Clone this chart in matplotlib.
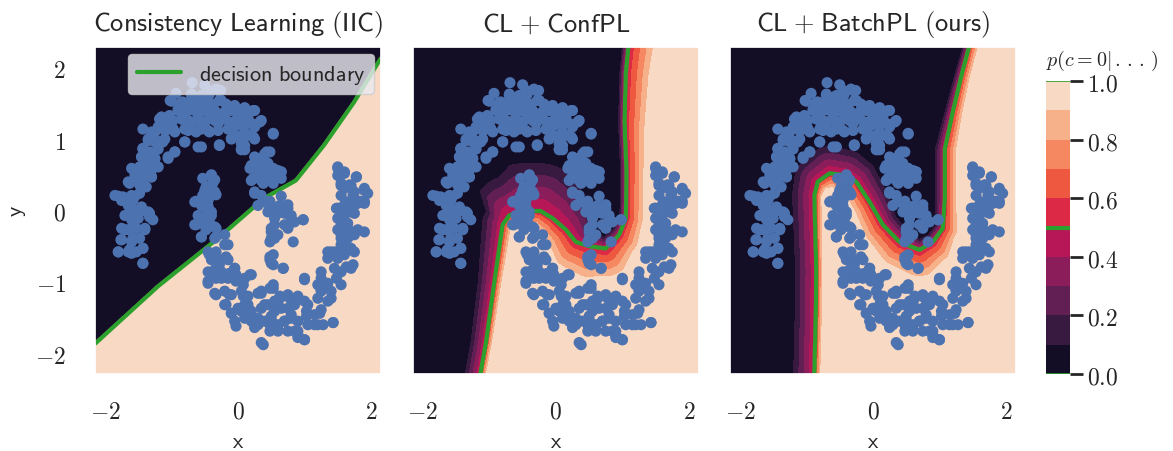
import numpy as np
import matplotlib
matplotlib.use("Agg")
import matplotlib.pyplot as plt
from matplotlib.path import Path
from matplotlib.ticker import FuncFormatter
import seaborn as sns

sns.set_theme(style="darkgrid")
plt.rcParams['mathtext.fontset'] = 'cm'
plt.rcParams['font.family'] = ['DejaVu Sans']

# ---------------------------------------------------------------- data points
# upper moon (class 0)
upper_x = [-0.69, -0.50, -0.33, -0.26, -0.93, -0.70, -0.65, -0.55, -0.43, -1.02,
           -0.85, -0.75, -0.60, -0.50, -0.38, -0.28, -0.18, -0.05, 0.10, 0.25,
           -0.90, -0.80, -0.65, -0.53, -0.43, -0.30, -0.20, -0.10, 0.05, 0.15,
           0.35, -1.18, -1.08, -0.98, -0.85, -0.75, -0.60, -0.50, -0.35, -0.23,
           -0.13, -0.03, 0.10, 0.25, 0.20, -1.43, -1.30, -1.20, -1.05, -0.95,
           -0.80, -0.70, -0.55, -0.43, -0.30, -0.15, -0.05, 0.08, 0.25, 0.53,
           -1.35, -1.25, -1.10, -0.80, -0.60, -0.28, -0.10, 0.05, 0.10, -1.43,
           -1.33, -1.20, -1.45, -1.35, -1.25, -1.05, -0.95, 0.40, 0.48, 0.25,
           0.35, 0.45, 0.53, 0.20, 0.30, 0.40, 0.48, 0.60, 0.65, -1.60,
           -1.48, -1.38, -1.28, -1.55, -1.65, -1.50, -1.43, -1.30, 0.20, 0.35,
           0.48, 0.53, 0.65, 0.25, 0.35, -1.85, -1.73, -1.60, -1.48, -1.65,
           -1.55, -1.45, -1.35, -1.28, -1.70, -1.60, -1.50, -1.75, -1.65, -1.53,
           -1.40, -1.75, -1.60, -1.48, -1.80, -1.65, -1.43, -1.43, -1.60, 0.38,
           0.50, 0.63, 0.45, 0.60, 0.75, 0.80, 0.85, 0.55, 0.70, 0.98,
           0.50, 0.55, 0.48, 0.60, 0.75,
           -0.45, -0.28, -0.70, -0.58, -1.00, -0.83, -0.65, -0.45, -0.25, -0.10,
           -0.90, -0.75, -0.50, -0.35, -0.05, 0.08, -1.15, -1.03, -0.80, -0.63,
           -0.50, -0.20, -0.03, -0.30, -1.25, -1.10, -0.98, -0.75, -0.63, -0.45,
           -0.10, 0.05, -1.35, -1.23, -1.13, -0.80, -0.55, -0.28, 0.05, -1.43,
           -1.33, -1.45, -1.25, -1.05, -0.95, -1.40, -1.20, -1.55, -1.43, -1.30,
           -1.63, -1.48, -1.38, -1.80, -1.68, -1.55, -1.60, -1.45, -1.33,
           0.10, 0.23, 0.05, 0.20, 0.33, 0.10, 0.23, 0.53, 0.05, 0.10,
           0.28, 0.43, 0.18, 0.35, 0.45, 0.50, 0.65, 0.23, 0.38, 0.53,
           0.25, 0.48, 0.65, 0.75, 0.55,
           -1.75, -1.58, -1.60, -1.43, -1.33, -1.70, -1.58, -1.40, -1.76, -1.58,
           -1.80, -1.63, -1.53, -1.43, -1.43,
           0.30, 0.45, 0.60, 0.70, 0.55, 0.80, 0.98, 0.50, 0.75, 0.50,
           0.83]
upper_y = [1.79, 1.76, 1.70, 1.68, 1.64, 1.63, 1.58, 1.61, 1.63, 1.54,
           1.51, 1.49, 1.47, 1.47, 1.49, 1.54, 1.49, 1.47, 1.44, 1.40,
           1.42, 1.38, 1.40, 1.40, 1.35, 1.33, 1.38, 1.40, 1.38, 1.31,
           1.26, 1.28, 1.24, 1.26, 1.28, 1.26, 1.28, 1.24, 1.26, 1.28,
           1.24, 1.19, 1.21, 1.17, 1.05, 1.14, 1.10, 1.17, 1.14, 1.10,
           1.14, 1.14, 1.14, 1.10, 1.12, 1.14, 1.05, 1.00, 1.00, 1.07,
           1.00, 0.96, 1.00, 0.96, 0.89, 0.91, 1.00, 0.86, 0.91, 0.86,
           0.82, 0.86, 0.75, 0.72, 0.72, 0.75, 0.82, 0.79, 0.82, 0.75,
           0.68, 0.63, 0.59, 0.63, 0.56, 0.54, 0.49, 0.56, 0.54, 0.59,
           0.61, 0.56, 0.59, 0.49, 0.40, 0.45, 0.38, 0.47, 0.42, 0.42,
           0.45, 0.38, 0.45, 0.26, 0.21, 0.21, 0.19, 0.21, 0.24, 0.07,
           0.00, 0.05, -0.02, -0.13, -0.07, -0.13, -0.11, -0.25, -0.27, -0.25,
           -0.25, -0.41, -0.44, -0.39, -0.58, -0.58, -0.53, -0.74, -0.60, 0.12,
           0.07, 0.07, -0.02, -0.04, 0.03, -0.07, -0.16, -0.20, -0.20, -0.13,
           -0.30, -0.39, -0.44, -0.34, -0.25,
           1.68, 1.67, 1.61, 1.59, 1.53, 1.52, 1.50, 1.52, 1.54, 1.45,
           1.40, 1.40, 1.43, 1.40, 1.40, 1.36, 1.31, 1.33, 1.26, 1.26,
           1.24, 1.29, 1.26, 1.22, 1.10, 1.12, 1.15, 1.12, 1.10, 1.12,
           1.01, 1.05, 0.98, 0.98, 0.96, 0.96, 0.89, 0.92, 0.85, 0.87,
           0.80, 0.75, 0.73, 0.73, 0.82, 0.64, 0.61, 0.54, 0.47, 0.47,
           0.38, 0.36, 0.33, 0.20, 0.17, 0.20, 0.01, 0.01, -0.04,
           1.43, 1.40, 1.26, 1.22, 1.24, 1.10, 1.03, 1.08, 0.94, 0.85,
           0.73, 0.82, 0.59, 0.61, 0.66, 0.54, 0.54, 0.45, 0.38, 0.43,
           0.24, 0.13, 0.20, 0.08, 0.01,
           0.14, 0.14, -0.02, 0.00, -0.09, -0.27, -0.23, -0.27, -0.41, -0.39,
           -0.58, -0.55, -0.58, -0.53, -0.74,
           0.07, 0.10, 0.05, -0.04, -0.11, -0.13, -0.13, -0.25, -0.23, -0.39,
           -0.44]

# lower moon (class 1)
lower_x = [-0.40, -0.53, -0.38, -0.50, -0.53, -0.40, -0.35, -0.65, -0.55, -0.48,
           -0.60, -0.50, -0.40, -0.45, -0.65, -0.55, -0.35, -0.20, -0.33, -0.40,
           -0.45, -0.33, -0.20, -0.40, -0.28, -0.15, -0.05, -0.45, -0.25, -0.33,
           -0.15, -0.03, 0.10, 0.20, -0.45, -0.35, -0.20, -0.10, 0.05, 0.15,
           0.30, 0.35, 0.48, 0.63, 0.75, 0.55, -0.20, -0.10, 0.00, 0.10,
           0.20, 0.35, 0.45, 0.55, 0.65, 0.75, 0.85, 1.00, -0.05, 0.10,
           0.20, 0.30, 0.40, 0.50, 0.60, 0.70, 0.80, 0.90, 1.03, 1.15,
           1.25, 0.48, 0.60, 0.75, 0.90, 1.05, 1.20, 1.43, 0.35, 0.90,
           1.00, 0.53, 0.48, 0.53, 0.68, 0.53, 1.00, 1.25, 1.20, 1.35,
           1.25, 1.40, 1.55, 1.20, 1.35, 1.25, 1.45, 1.55, 1.70, 1.35,
           1.50, 1.60, 1.45, 1.55, 1.75, 1.35, 1.65, 1.75, 1.60, 1.55,
           1.65, 1.90, 1.80, 1.50, 1.60, 1.70, 1.75, 1.65, 1.55, 1.60,
           1.75, 1.90, 1.95, 1.85, 1.70, 1.55, 1.50, 1.60, 1.50, 1.78,
           1.65, 1.55, 1.48, 1.50,
           -0.40, -0.35, -0.48, -0.50, -0.33, -0.63, -0.45,
           1.50, 1.60, 1.55, 1.68, 1.78, 1.90, 1.73, 1.83, 1.90, 1.60,
           1.50,
           -0.60, -0.45, -0.55, -0.43, -0.63, -0.48, -0.35, -0.55, -0.33, -0.15,
           -0.43, -0.30, -0.18, -0.05, -0.35, -0.45, -0.25, -0.13, -0.03, -0.33,
           -0.18, -0.10, -0.03, -0.13,
           0.48, 0.50, 0.68, 0.18, 1.00, 0.53, 0.35, 0.63, 0.08, 0.08,
           0.15, 0.40, 0.55, 0.78, 0.90, 1.05, 1.23, 1.03, 1.15, 1.43,
           1.33, 1.40, 1.48, 1.25, 1.63, 1.50, 1.70, 1.73, 1.40, 1.55,
           1.65, 1.55, 1.50, 1.80, 1.90, 1.75, 0.05, 0.30, 0.48, 0.60,
           0.70, 0.85, 1.00, 0.90, 0.38, 0.50, 0.80, 0.25, 1.28]
lower_y = [0.49, 0.45, 0.38, 0.28, 0.21, 0.21, 0.26, 0.12, 0.07, 0.03,
           -0.07, -0.11, -0.07, -0.18, -0.20, -0.37, -0.39, -0.34, -0.25, -0.02,
           -0.58, -0.58, -0.48, -0.69, -0.76, -0.69, -0.81, -0.86, -0.86, -0.95,
           -0.95, -0.99, -0.95, -0.90, -1.02, -1.16, -1.13, -1.18, -1.13, -1.20,
           -1.16, -1.13, -1.09, -1.20, -1.18, -1.27, -1.32, -1.44, -1.37, -1.32,
           -1.41, -1.37, -1.32, -1.41, -1.37, -1.37, -1.32, -1.27, -1.55, -1.51,
           -1.55, -1.60, -1.55, -1.53, -1.60, -1.55, -1.51, -1.55, -1.41, -1.46,
           -1.39, -1.69, -1.69, -1.69, -1.69, -1.60, -1.60, -1.57, -1.85, -1.78,
           -1.81, -0.62, -0.69, -0.76, -0.81, -1.04, -0.95, -0.95, -1.04, -1.02,
           -1.13, -1.13, -1.04, -1.23, -1.27, -0.86, -0.81, -0.86, -0.81, -0.67,
           -0.67, -0.62, -0.58, -0.48, -0.58, -0.58, -0.39, -0.34, -0.30, -0.20,
           -0.18, -0.30, -0.27, -0.11, -0.07, -0.02, 0.07, 0.12, 0.21, 0.31,
           0.26, 0.28, 0.24, 0.12, 0.35, 0.35, 0.49, 0.54, 0.61, 0.47,
           -0.53, -0.39, 0.03, -0.27,
           0.50, 0.43, 0.33, 0.24, 0.22, 0.13, 0.06,
           0.59, 0.52, 0.38, 0.36, 0.47, 0.31, 0.22, 0.13, 0.13, 0.08,
           0.03,
           0.12, 0.14, -0.18, -0.16, -0.20, -0.27, -0.23, -0.37, -0.37, -0.48,
           -0.62, -0.69, -0.65, -0.81, -0.83, -0.99, -0.95, -0.88, -0.90, -1.18,
           -1.32, -1.44, -1.62, -1.18,
           -0.65, -0.74, -0.81, -0.90, -0.97, -1.09, -1.16, -1.23, -1.04, -1.20,
           -1.32, -1.32, -1.37, -1.23, -1.20, -1.32, -1.44, -1.48, -1.60, -1.57,
           -1.06, -1.23, -0.95, -1.11, -0.79, -0.58, -0.53, -0.76, -0.58, -0.34,
           -0.25, -0.11, 0.03, 0.10, 0.10, -0.04, -1.41, -1.51, -1.60, -1.67,
           -1.55, -1.69, -1.81, -1.74, -1.88, -1.48, -1.46, -1.64, -1.60]

# ------------------------------------------------------- decision boundaries
titles = [r"Consistency\ Learning\ (IIC)", r"CL\;{+}\;ConfPL",
          r"CL\;{+}\;BatchPL\ (ours)"]

# boundary polylines (x, y) with the width of the transition band on the
# p<0.5 side (wd) and on the p>0.5 side (wl) at every vertex
iic_bx = [-2.40, -2.13, -1.20, -0.30, 0.39, 0.87, 1.29, 1.74, 2.14, 2.39]
iic_by = [-2.08, -1.85, -1.06, -0.39, 0.17, 0.42, 0.91, 1.51, 2.12, 2.50]
iic_wd = [0.03] * 10
iic_wl = [0.03] * 10

conf_bx = [-1.18, -1.13, -1.05, -0.93, -0.80, -0.70, -0.50, -0.23, -0.05, 0.15,
           0.30, 0.50, 0.75, 0.95, 1.05, 1.06, 1.03, 1.05, 1.09, 1.10]
conf_by = [-2.60, -2.27, -1.85, -1.04, -0.20, -0.07, -0.01, -0.01, -0.11, -0.27,
           -0.44, -0.50, -0.53, -0.34, -0.11, 0.54, 1.24, 1.93, 2.31, 2.60]
conf_wd = [0.28, 0.28, 0.28, 0.30, 0.38, 0.69, 0.83, 0.83, 0.77, 0.60,
           0.41, 0.28, 0.17, 0.14, 0.11, 0.11, 0.11, 0.11, 0.11, 0.11]
conf_wl = [0.11, 0.11, 0.12, 0.14, 0.17, 0.19, 0.22, 0.28, 0.33, 0.41,
           0.50, 0.55, 0.50, 0.39, 0.33, 0.33, 0.39, 0.44, 0.47, 0.47]

batch_bx = [-0.88, -0.88, -0.86, -0.85, -0.88, -0.83, -0.65, -0.40, -0.25, -0.05,
            0.15, 0.40, 0.70, 0.90, 1.05, 1.08, 1.08, 1.20, 1.33, 1.45, 1.53]
batch_by = [-2.60, -2.27, -1.55, -0.85, 0.21, 0.40, 0.52, 0.49, 0.40, 0.12,
            -0.20, -0.44, -0.55, -0.44, -0.25, 0.17, 0.86, 1.38, 1.89, 2.31, 2.60]
batch_wd = [0.39, 0.39, 0.39, 0.39, 0.41, 0.44, 0.47, 0.44, 0.41, 0.36,
            0.28, 0.22, 0.17, 0.14, 0.14, 0.17, 0.17, 0.14, 0.12, 0.11, 0.11]
batch_wl = [0.12, 0.12, 0.12, 0.12, 0.14, 0.19, 0.25, 0.28, 0.30, 0.33,
            0.39, 0.44, 0.47, 0.39, 0.28, 0.22, 0.22, 0.19, 0.17, 0.17, 0.17]

boundaries = [(iic_bx, iic_by, iic_wd, iic_wl),
              (conf_bx, conf_by, conf_wd, conf_wl),
              (batch_bx, batch_by, batch_wd, batch_wl)]

levels = np.linspace(0, 1, 11)
cbar_ticks = [0.0, 0.2, 0.4, 0.6, 0.8, 1.0]
xlim = (-2.15, 2.15)
ylim = (-2.29, 2.29)


def class_probability(X, Y, bx, by, wd, wl):
    """p(c=0) rising linearly with the signed distance to a boundary polyline."""
    P = np.column_stack([bx, by])
    wd = np.asarray(wd, float)
    wl = np.asarray(wl, float)
    G = np.column_stack([X.ravel(), Y.ravel()])
    best = np.full(len(G), np.inf)
    w_dark = np.ones(len(G))
    w_light = np.ones(len(G))
    for i in range(len(P) - 1):
        a, b = P[i], P[i + 1]
        ab = b - a
        t = np.clip(((G - a) @ ab) / (ab @ ab), 0.0, 1.0)
        proj = a + t[:, None] * ab
        d = np.hypot(G[:, 0] - proj[:, 0], G[:, 1] - proj[:, 1])
        m = d < best
        best[m] = d[m]
        w_dark[m] = (wd[i] * (1 - t) + wd[i + 1] * t)[m]
        w_light[m] = (wl[i] * (1 - t) + wl[i + 1] * t)[m]
    poly = np.vstack([P, [[10.0, P[-1, 1]], [10.0, -10.0], [P[0, 0], -10.0]]])
    inside = Path(poly).contains_points(G)
    s = np.where(inside, best / w_light, -best / w_dark)
    return (0.5 + 0.5 * np.clip(s, -1.0, 1.0)).reshape(X.shape)


gx = np.linspace(xlim[0], xlim[1], 400)
gy = np.linspace(ylim[0], ylim[1], 400)
X, Y = np.meshgrid(gx, gy)

cmap = sns.color_palette("rocket", as_cmap=True)
green = "#2ca02c"
blue = "#4c72b0"

fig = plt.figure(figsize=(11.73, 4.52), dpi=100)
lefts = [0.081, 0.352, 0.6223]
axes = [fig.add_axes([l, 0.1704, 0.2438, 0.7235]) for l in lefts]

math_fmt = FuncFormatter(lambda v, pos: r"$%g$" % v)

for k, (ax, title, (bx, by, wd, wl)) in enumerate(zip(axes, titles, boundaries)):
    p = class_probability(X, Y, bx, by, wd, wl)
    cs = ax.contourf(X, Y, p, levels=levels, cmap=cmap)
    cl = ax.contour(X, Y, p, levels=[0.5], colors=green, linewidths=3)
    ax.scatter(upper_x + lower_x, upper_y + lower_y, s=64, color=blue,
               edgecolors="none", zorder=3)
    ax.set_xlim(*xlim)
    ax.set_ylim(*ylim)
    ax.set_xticks([-2, 0, 2])
    ax.set_yticks([-2, -1, 0, 1, 2])
    ax.xaxis.set_major_formatter(math_fmt)
    ax.yaxis.set_major_formatter(math_fmt)
    ax.tick_params(axis="x", labelsize=17, pad=12)
    ax.tick_params(axis="y", labelsize=17, pad=15)
    if k > 0:
        ax.tick_params(labelleft=False)
    else:
        ax.set_ylabel(r"$\mathsf{y}$", fontsize=16)
        ax.yaxis.set_label_coords(-0.27, 0.5)
        ax.yaxis.label.set_va("center")
    ax.set_xlabel(r"$\mathsf{x}$", fontsize=16)
    ax.xaxis.set_label_coords(0.5, -0.205)
    ax.xaxis.label.set_va("center")
    ax.set_title(r"$\mathsf{%s}$" % title, fontsize=19, pad=12)
    if k == 0:
        ax.plot([], [], color=green, lw=3, label=r"$\mathsf{decision\ boundary}$")
        ax.legend(loc="upper right", fontsize=16, borderaxespad=0.3)

cax = fig.add_axes([0.8917, 0.1704, 0.0205, 0.648])
cbar = fig.colorbar(cs, cax=cax, ticks=cbar_ticks)
cbar.add_lines(cl)
cbar.outline.set_visible(False)
cax.axhline(0.0, color=green, lw=1.2)
cax.axhline(1.0, color=green, lw=1.2)
cbar.ax.yaxis.set_major_formatter(FuncFormatter(lambda v, pos: r"$%.1f$" % v))
cbar.ax.tick_params(labelsize=17, length=9, width=2, color="#262626", pad=3)
fig.text(1102 / 1173, 1 - 61 / 452, r"$p(c = 0|\,.\,.\,.\,)$", fontsize=14.5,
         ha="center", va="center")

fig.savefig("out.png", dpi=100)
